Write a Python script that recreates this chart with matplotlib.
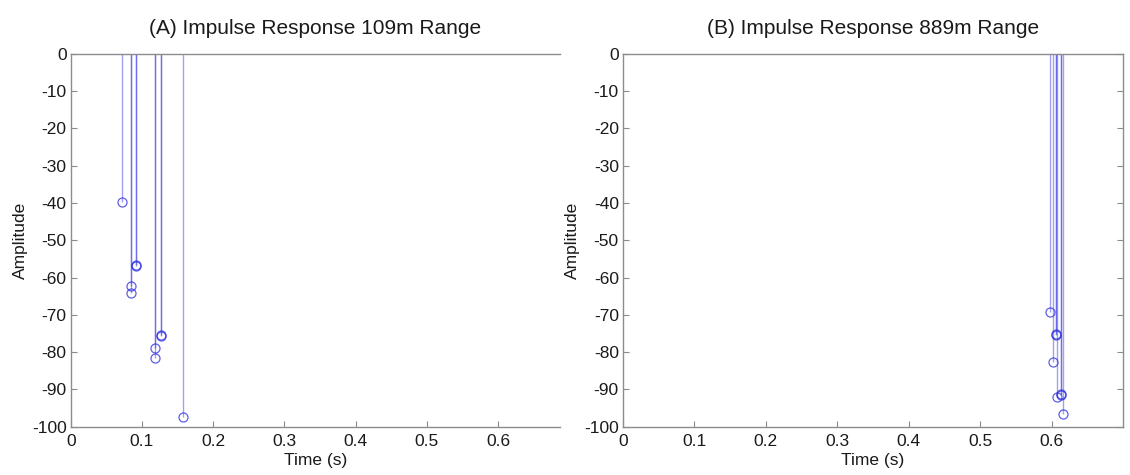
import matplotlib
matplotlib.use("Agg")
import matplotlib.pyplot as plt

plt.rcParams['font.family'] = ['Liberation Sans', 'DejaVu Sans']
plt.rcParams['axes.unicode_minus'] = False

# (A) 109 m range: delays (s) and amplitudes
t_a = [0.072, 0.0847, 0.0850, 0.0915, 0.0920, 0.1178, 0.1182, 0.1268, 0.1272, 0.158]
amp_a = [-39.7, -62.2, -64.1, -56.6, -57.0, -78.9, -81.6, -75.3, -75.6, -97.5]

# (B) 889 m range
t_b = [0.5976, 0.6014, 0.6054, 0.6058, 0.6070, 0.6128, 0.6132, 0.6154]
amp_b = [-69.2, -82.7, -75.2, -75.5, -92.0, -91.3, -91.5, -96.6]

titles = ["(A) Impulse Response 109m Range", "(B) Impulse Response 889m Range"]
yticks = list(range(0, -101, -10))
xticks = [0, 0.1, 0.2, 0.3, 0.4, 0.5, 0.6]

fig = plt.figure(figsize=(11.3, 4.75), dpi=100)
ax_a = fig.add_axes([0.0626, 0.1017, 0.433, 0.785])
ax_b = fig.add_axes([0.5513, 0.1017, 0.4427, 0.785])

spine_col = '#8c8c8c'
for ax, t, amp, title, xmax in [(ax_a, t_a, amp_a, titles[0], 0.687),
                                (ax_b, t_b, amp_b, titles[1], 0.70)]:
    markerline, stemlines, baseline = ax.stem(t, amp, bottom=0)
    plt.setp(stemlines, color='#3030e0', alpha=0.45, linewidth=1.0)
    plt.setp(markerline, marker='o', markersize=6.5, markerfacecolor='none',
             markeredgecolor='#2a2ae0', markeredgewidth=0.9, alpha=0.75)
    baseline.set_visible(False)
    ax.set_xlim(0, xmax)
    ax.set_ylim(-100, 0)
    ax.set_xticks(xticks)
    ax.set_xticklabels([f"{v:g}" for v in xticks])
    ax.set_yticks(yticks)
    ax.tick_params(direction='in', length=4, color=spine_col, labelsize=12.5,
                   labelcolor='#1a1a1a', pad=3)
    ax.tick_params(axis='x', pad=5)
    for s in ax.spines.values():
        s.set_color(spine_col)
        s.set_linewidth(1.0)
    ax.set_xlabel("Time (s)", fontsize=12.5, labelpad=3, color='#1a1a1a')
    ax.set_ylabel("Amplitude", fontsize=12.5, labelpad=3, color='#1a1a1a')
    ax.set_title(title, fontsize=15, pad=14, color='#1a1a1a')

ax_a.spines['right'].set_visible(False)
ax_b.tick_params(axis='y', right=True)

fig.savefig("out.png", dpi=100)
